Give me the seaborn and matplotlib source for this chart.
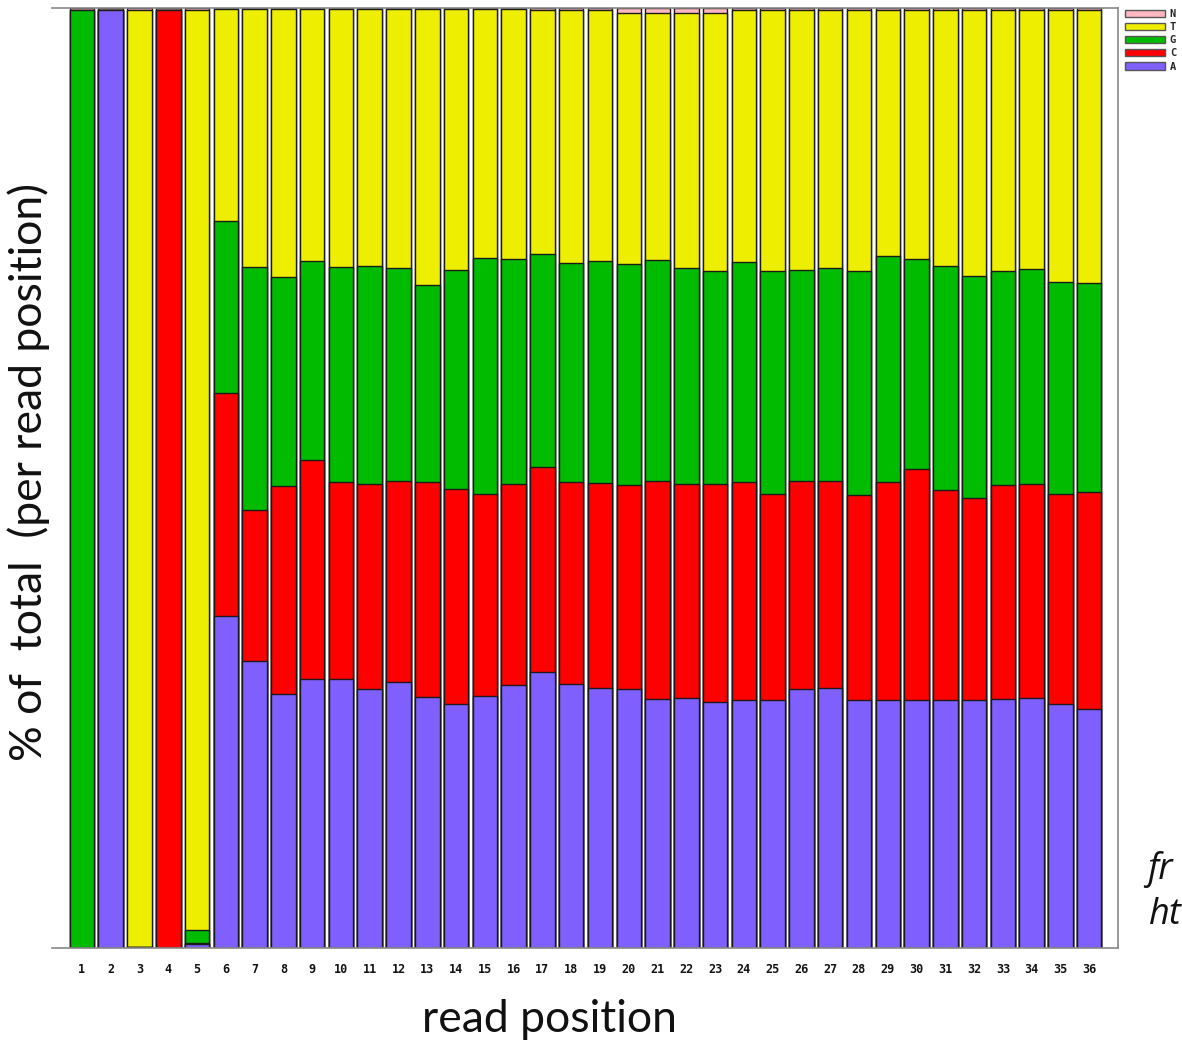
import numpy as np
import pandas as pd
import matplotlib
matplotlib.use("Agg")
import matplotlib.pyplot as plt
import seaborn as sns
from matplotlib.patches import Patch

positions = [str(i) for i in range(1, 37)]

A = [0.0, 99.8, 0.1, 0.0, 0.4, 35.3, 30.5, 27.0, 28.6, 28.6, 27.6, 28.3,
     26.7, 26.0, 26.8, 28.0, 29.4, 28.1, 27.7, 27.6, 26.5, 26.6, 26.2, 26.4,
     26.4, 27.6, 27.7, 26.4, 26.4, 26.4, 26.4, 26.4, 26.5, 26.6, 26.0, 25.4]
C = [0.0, 0.0, 0.0, 99.8, 0.1, 23.7, 16.1, 22.2, 23.3, 21.0, 21.8, 21.4,
     22.9, 22.8, 21.5, 21.4, 21.8, 21.5, 21.8, 21.7, 23.2, 22.8, 23.2, 23.2,
     21.9, 22.1, 22.0, 21.8, 23.2, 24.6, 22.3, 21.5, 22.8, 22.8, 22.3, 23.1]
G = [99.8, 0.0, 0.0, 0.0, 1.4, 18.3, 25.9, 22.2, 21.2, 22.9, 23.2, 22.6,
     20.9, 23.3, 25.1, 23.9, 22.6, 23.3, 23.6, 23.5, 23.5, 22.9, 22.6, 23.4,
     23.7, 22.4, 22.6, 23.8, 24.0, 22.3, 23.9, 23.6, 22.7, 22.8, 22.6, 22.2]
T = [0.0, 0.0, 99.7, 0.0, 97.9, 22.6, 27.4, 28.5, 26.8, 27.4, 27.3, 27.6,
     29.4, 27.8, 26.5, 26.6, 26.0, 26.9, 26.7, 26.7, 26.3, 27.2, 27.5, 26.8,
     27.8, 27.7, 27.5, 27.8, 26.2, 26.5, 27.2, 28.3, 27.8, 27.6, 28.9, 29.1]
N = [0.2, 0.2, 0.2, 0.2, 0.2, 0.1, 0.1, 0.1, 0.1, 0.1, 0.1, 0.1,
     0.1, 0.1, 0.1, 0.1, 0.2, 0.2, 0.2, 0.5, 0.5, 0.5, 0.5, 0.2,
     0.2, 0.2, 0.2, 0.2, 0.2, 0.2, 0.2, 0.2, 0.2, 0.2, 0.2, 0.2]

bases = ["A", "C", "G", "T", "N"]
colors = {"A": "#7f60ff", "C": "#ff0000", "G": "#00bb00", "T": "#eeee00", "N": "#ffb8c0"}

df = pd.DataFrame({"pos": positions, "A": A, "C": C, "G": G, "T": T, "N": N})
cum = df[bases].cumsum(axis=1)
for b in bases:
    df["cum_" + b] = cum[b]

sns.set_theme(style="white")
fig = plt.figure(figsize=(11.82, 10.4), dpi=100)
ax = fig.add_axes([52 / 1182, 1 - 948 / 1040, (1118 - 52) / 1182, (948 - 8) / 1040])

for b in reversed(bases):
    sns.barplot(data=df, x="pos", y="cum_" + b, color=colors[b], saturation=1,
                width=0.85, edgecolor="#1a1a1a", linewidth=1.0, ax=ax, order=positions)

ax.set_xlim(-1.04, 36.0)
ax.set_ylim(0, 100)
ax.set_yticks([])
ax.tick_params(axis="x", length=0, pad=11)
for lab in ax.get_xticklabels():
    lab.set_fontfamily("DejaVu Sans Mono")
    lab.set_fontweight("bold")
    lab.set_fontsize(8.5)
    lab.set_color("#111111")

for s in ["top", "right", "bottom"]:
    ax.spines[s].set_color("#888888")
    ax.spines[s].set_linewidth(1.2)
ax.spines["left"].set_visible(False)

ax.set_xlabel("read position", fontsize=32, family="Lato", color="#111111")
ax.xaxis.set_label_coords(0.467, -0.054)
ax.set_ylabel("% of  total  (per read position)", fontsize=32, family="Lato", color="#111111")
ax.yaxis.set_label_coords(-0.002, 0.506)

handles = [Patch(facecolor=colors[b], edgecolor="#555555", linewidth=1) for b in ["N", "T", "G", "C", "A"]]
leg = fig.legend(handles, ["N", "T", "G", "C", "A"], loc="upper left",
                 bbox_to_anchor=(1125 / 1182, 1 - 9 / 1040), frameon=False,
                 prop={"family": "DejaVu Sans Mono", "weight": "bold", "size": 7.5},
                 handlelength=3.8, handleheight=0.7, labelspacing=0.3,
                 handletextpad=0.5, borderpad=0, borderaxespad=0)

fig.text(1147 / 1182, 1 - 870 / 1040, "fr", fontsize=26, style="italic",
         family="Open Sans", va="center", ha="left", color="#111111")
fig.text(1149 / 1182, 1 - 915 / 1040, "ht", fontsize=26, style="italic",
         family="Open Sans", va="center", ha="left", color="#111111")

fig.savefig("out.png", dpi=100)
